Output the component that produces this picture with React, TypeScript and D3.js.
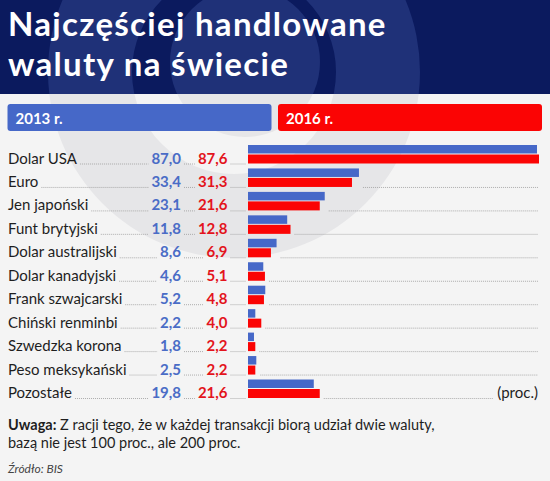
import { useEffect, useRef } from 'react'
import * as d3 from 'd3'

const currencies = [
  'Dolar USA', 'Euro', 'Jen japoński', 'Funt brytyjski', 'Dolar australijski',
  'Dolar kanadyjski', 'Frank szwajcarski', 'Chiński renminbi', 'Szwedzka korona',
  'Peso meksykański', 'Pozostałe',
]
const share2013 = [87.0, 33.4, 23.1, 11.8, 8.6, 4.6, 5.2, 2.2, 1.8, 2.5, 19.8]
const share2016 = [87.6, 31.3, 21.6, 12.8, 6.9, 5.1, 4.8, 4.0, 2.2, 2.2, 21.6]
const years = ['2013 r.', '2016 r.']
const titleLines = ['Najczęściej handlowane', 'waluty na świecie']

const W = 550, H = 481
const NAVY = '#0b1a5e', BG = '#f4f4f4'
const BLUE = '#4668c8', RED = '#fb0404'
const BLUE_TXT = '#4a6cc6', RED_TXT = '#e3141c'
const FONT = 'Lato, "Noto Sans", sans-serif'

const fmt = (v: number) => d3.format('.1f')(v).replace('.', ',')

export default function App() {
  const ref = useRef<SVGSVGElement>(null)

  useEffect(() => {
    const svg = d3.select(ref.current!)
    svg.selectAll('*').remove()
    const bandH = 94

    const defs = svg.append('defs')
    defs.append('clipPath').attr('id', 'top').append('rect').attr('width', W).attr('height', bandH)
    defs.append('clipPath').attr('id', 'body').append('rect').attr('y', bandH).attr('width', W).attr('height', H - bandH)

    svg.append('rect').attr('width', W).attr('height', H).attr('fill', BG)
    svg.append('rect').attr('width', W).attr('height', bandH).attr('fill', NAVY)

    // faint watermark logo (ring + inner disc)
    const ring = d3.arc()({ innerRadius: 102, outerRadius: 186, startAngle: 0, endAngle: 2 * Math.PI })
    const disc = d3.arc()({ innerRadius: 0, outerRadius: 75, startAngle: 0, endAngle: 2 * Math.PI })
    ;[['top', '#1f3178'], ['body', '#e6e6e8']].forEach(([clip, col]) => {
      const g = svg.append('g').attr('clip-path', `url(#${clip})`)
      g.append('path').attr('d', ring!).attr('transform', 'translate(234,72)').attr('fill', col)
      g.append('path').attr('d', disc!).attr('transform', 'translate(245,62)').attr('fill', col)
    })

    // title
    svg.append('g').selectAll('text').data(titleLines).join('text')
      .attr('x', 8).attr('y', (_, i) => 36 + i * 40)
      .attr('fill', '#fff').attr('font-family', FONT).attr('font-weight', 700).attr('font-size', 33)
      .attr('letter-spacing', 1.3)
      .text(d => d)

    // year headers
    const hdr = svg.append('g')
    years.forEach((y, i) => {
      const x0 = i === 0 ? 7.5 : 278
      hdr.append('rect').attr('x', x0).attr('y', 104).attr('width', 264).attr('height', 27).attr('rx', 3)
        .attr('fill', i === 0 ? BLUE : RED)
      hdr.append('text').attr('x', x0 + 8).attr('y', 123.5).attr('fill', '#fff')
        .attr('font-family', FONT).attr('font-weight', 700).attr('font-size', 15).text(y)
    })

    const yS = d3.scalePoint<string>().domain(currencies).range([163.5, 398])
    const xS = d3.scaleLinear().domain([0, 87.6]).range([248, 539])
    const xBlueEnd = 181, xRedEnd = 227.5, xRight = 538

    const dots = (g: d3.Selection<SVGGElement, unknown, null, undefined>, x1: number, x2: number, y: number) => {
      if (x2 - x1 < 3) return
      g.append('line').attr('x1', x1).attr('x2', x2).attr('y1', y + 0.5).attr('y2', y + 0.5)
        .attr('stroke', '#9a9a9a').attr('stroke-width', 0.8).attr('stroke-dasharray', '1,1')
    }

    const rows = svg.append('g')
    currencies.forEach((c, i) => {
      const y = yS(c)!
      const g = rows.append('g')
      const lab = g.append('text').attr('x', 8).attr('y', y).attr('fill', '#1e1e1e')
        .attr('font-family', FONT).attr('font-size', 15).text(c)
      const bv = g.append('text').attr('x', xBlueEnd).attr('y', y).attr('text-anchor', 'end')
        .attr('fill', BLUE_TXT).attr('font-family', FONT).attr('font-weight', 700).attr('font-size', 15)
        .text(fmt(share2013[i]))
      const rv = g.append('text').attr('x', xRedEnd).attr('y', y).attr('text-anchor', 'end')
        .attr('fill', RED_TXT).attr('font-family', FONT).attr('font-weight', 700).attr('font-size', 15)
        .text(fmt(share2016[i]))
      const labEnd = 8 + (lab.node() as SVGTextElement).getComputedTextLength()
      const bvW = (bv.node() as SVGTextElement).getComputedTextLength()
      const rvW = (rv.node() as SVGTextElement).getComputedTextLength()
      dots(g, labEnd + 3, xBlueEnd - bvW - 3, y)
      dots(g, xBlueEnd + 3, xRedEnd - rvW - 3, y)
      dots(g, xRedEnd + 3, 246, y)

      let rightEnd = xRight
      if (i === currencies.length - 1) {
        const p = g.append('text').attr('x', xRight).attr('y', y).attr('text-anchor', 'end')
          .attr('fill', '#1e1e1e').attr('font-family', FONT).attr('font-size', 15).text('(proc.)')
        rightEnd = xRight - (p.node() as SVGTextElement).getComputedTextLength() - 4
      }
      const barEnd = xS(Math.max(share2013[i], share2016[i]))
      dots(g, barEnd + 4, rightEnd, y)

      g.append('rect').attr('x', xS(0)).attr('y', y - 18.5).attr('height', 8.5)
        .attr('width', xS(share2013[i]) - xS(0)).attr('fill', BLUE)
      g.append('rect').attr('x', xS(0)).attr('y', y - 9).attr('height', 9)
        .attr('width', xS(share2016[i]) - xS(0)).attr('fill', RED)
    })

    // note
    const note = svg.append('text').attr('x', 8).attr('y', 430).attr('fill', '#1e1e1e')
      .attr('font-family', FONT).attr('font-size', 14.5)
    note.append('tspan').attr('font-weight', 700).text('Uwaga:')
    note.append('tspan').text(' Z racji tego, że w każdej transakcji biorą udział dwie waluty,')
    svg.append('text').attr('x', 8).attr('y', 448).attr('fill', '#1e1e1e')
      .attr('font-family', FONT).attr('font-size', 14.5).text('bazą nie jest 100 proc., ale 200 proc.')

    svg.append('text').attr('x', 8).attr('y', 473).attr('fill', '#444')
      .attr('font-family', FONT).attr('font-style', 'italic').attr('font-size', 12).text('Źródło: BIS')
  }, [])

  return <svg ref={ref} width={W} height={H} style={{ position: 'absolute', left: 0, top: 0 }} />
}
